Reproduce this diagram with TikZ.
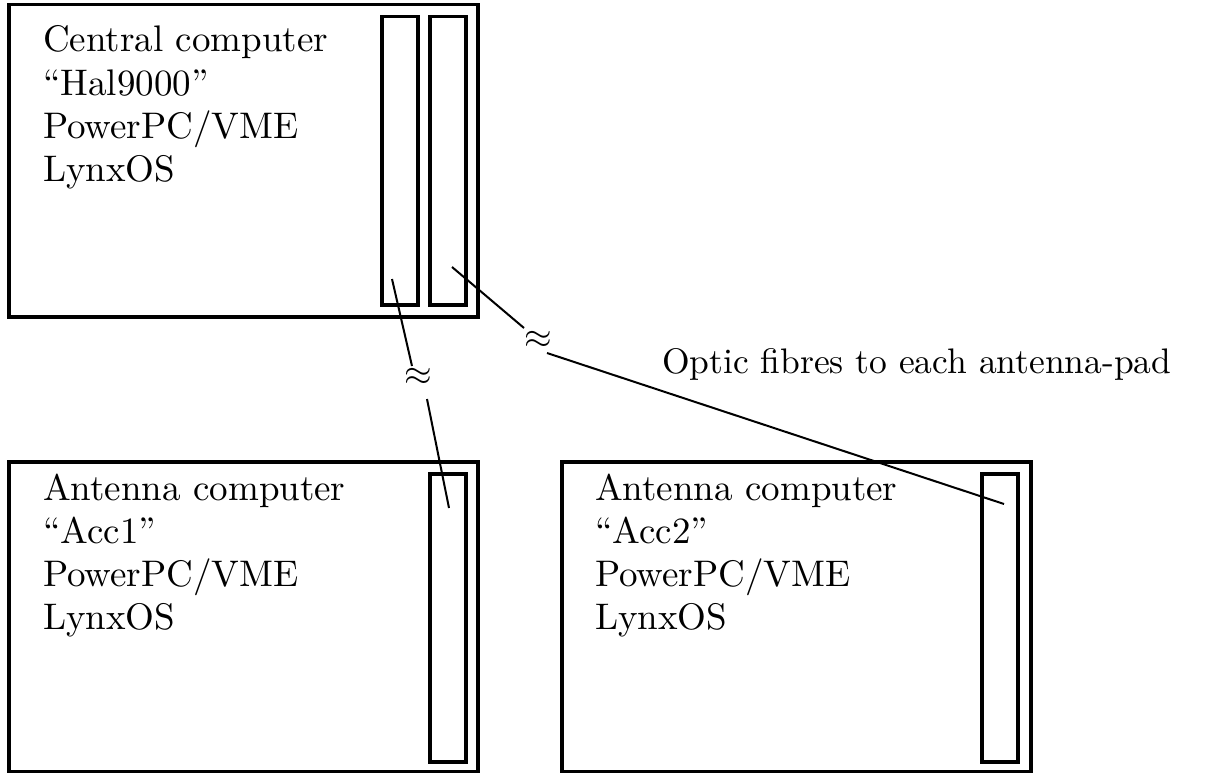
\documentclass[tikz,border=0pt]{standalone}
\newcommand\bigtxt[1]{\scalebox{3.55}{#1}}
\newcommand\lines[1]{\scalebox{3.7}{\renewcommand\arraystretch{0.975}\begin{tabular}[t]{@{}l@{}}#1\end{tabular}}}
\begin{document}
\begin{tikzpicture}[x=1pt,y=-1pt,
  box/.style={draw, line width=3.5pt, inner sep=0pt, anchor=north west},
  fibre/.style={line width=2pt},
  lbl/.style={anchor=base west, inner sep=0pt}]
\useasboundingbox (0,0) rectangle (1210,773);
% boxes
\node[box, minimum width=469pt, minimum height=312pt] (central) at (7,3) {};
\node[box, minimum width=36pt, minimum height=288pt] (slotA) at (380,15) {};
\node[box, minimum width=36pt, minimum height=288pt] (slotB) at (428,15) {};
\node[box, minimum width=469pt, minimum height=310pt] (acc1) at (7,460) {};
\node[box, minimum width=36pt, minimum height=288pt] (slot1) at (428,472) {};
\node[box, minimum width=469pt, minimum height=310pt] (acc2) at (560,460) {};
\node[box, minimum width=36pt, minimum height=288pt] (slot2) at (980,472) {};
% texts
\node[lbl] (tc) at (43,52) {\lines{Central computer\\“Hal9000”\\PowerPC/VME\\LynxOS}};
\node[lbl] (t1) at (43,500) {\lines{Antenna computer\\“Acc1”\\PowerPC/VME\\LynxOS}};
\node[lbl] (t2) at (595,500) {\lines{Antenna computer\\“Acc2”\\PowerPC/VME\\LynxOS}};
\node[lbl] (optic) at (662,373) {\bigtxt{Optic fibres to each antenna-pad}};
% fibre breaks
\node[inner sep=0pt] (ap1) at (418,377) {\bigtxt{$\approx$}};
\node[inner sep=0pt] (ap2) at (538,340) {\bigtxt{$\approx$}};
\coordinate (f1a) at (392,279);
\coordinate (f1b) at (412,366);
\coordinate (f1c) at (427,399);
\coordinate (f1d) at (449,508);
\coordinate (f2a) at (452,267);
\coordinate (f2b) at (524,328);
\coordinate (f2c) at (547,353);
\coordinate (f2d) at (1004,504);
\draw[fibre] (f1a) -- (f1b);
\draw[fibre] (f1c) -- (f1d);
\draw[fibre] (f2a) -- (f2b);
\draw[fibre] (f2c) -- (f2d);
\end{tikzpicture}
\end{document}
